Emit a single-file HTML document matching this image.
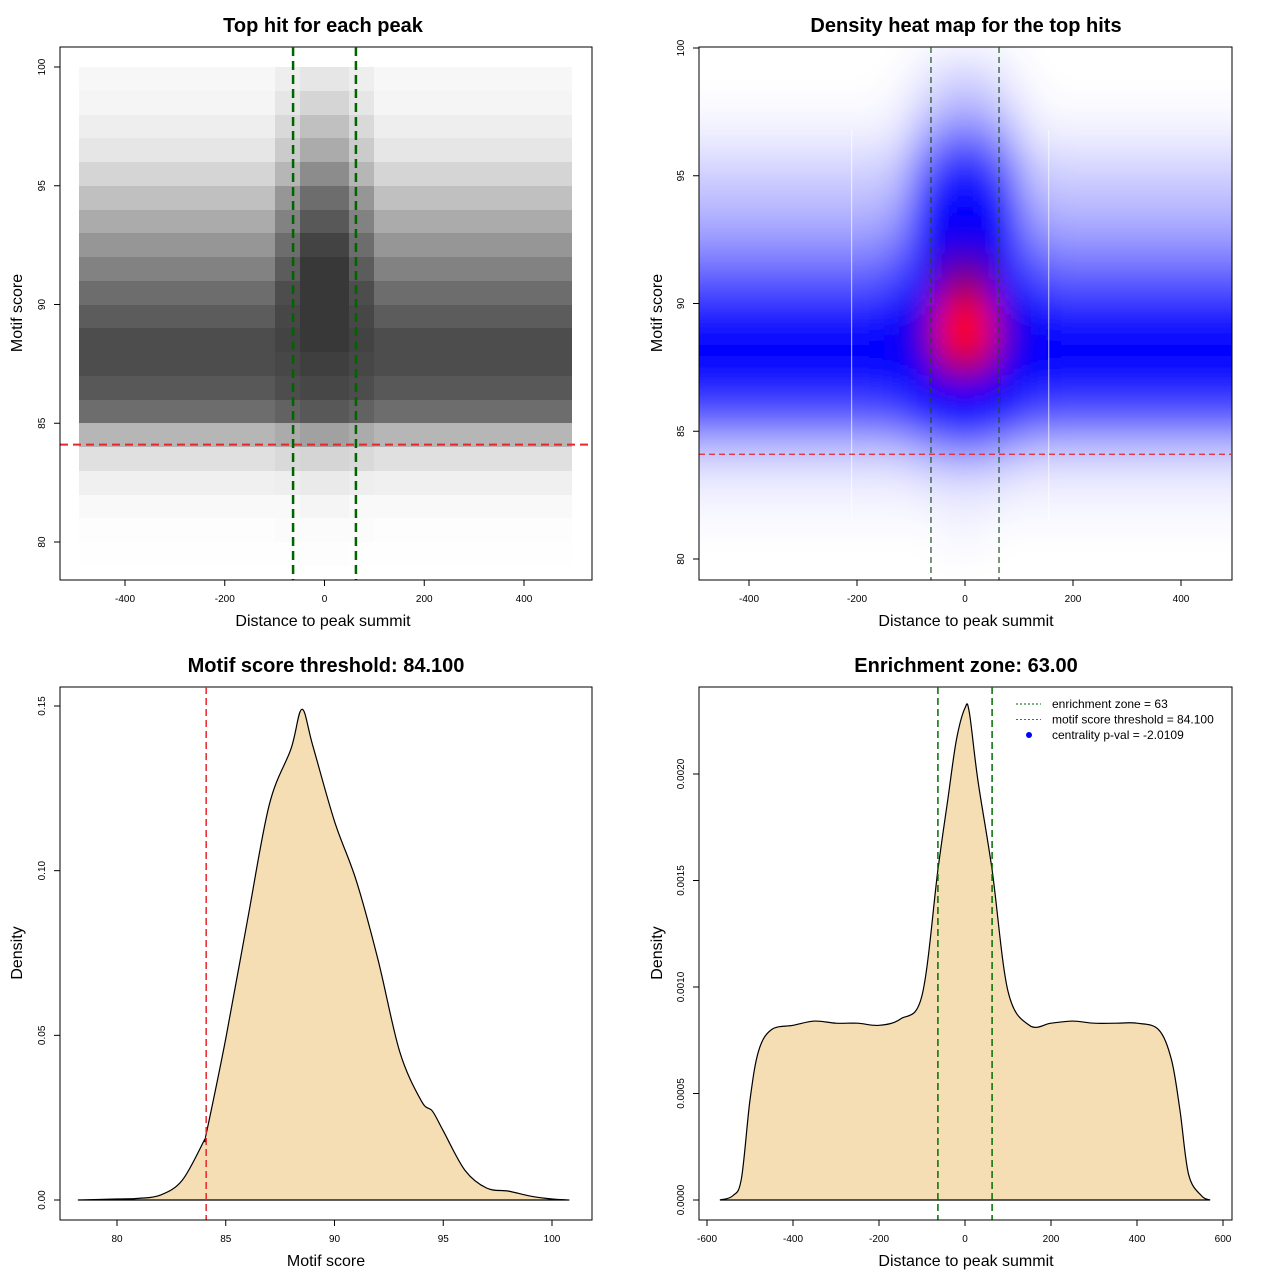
<!DOCTYPE html>
<html><head><meta charset="utf-8"><style>
html,body{margin:0;padding:0;background:#fff}
svg text{font-family:"Liberation Sans",sans-serif}
</style></head><body>
<svg id="s" width="1280" height="1280" xmlns="http://www.w3.org/2000/svg">
<defs>
<filter id="blur" filterUnits="userSpaceOnUse" x="600" y="0" width="700" height="640"><feGaussianBlur stdDeviation="16"/></filter>
<clipPath id="c2"><rect x="699" y="47" width="533" height="533"/></clipPath>
</defs>
</svg>
<script>
// ---------- DATA ----------
const distEdges=[-500,-450,-400,-350,-300,-250,-200,-150,-100,-50,0,50,100,150,200,250,300,350,400,450,500];
const scatterRowsTop=[100,99,98,97,96,95,94,93,92,91,90,89,88,87,86,85,84,83,82,81,80];
const scatterGrid=[
[.04,.04,.04,.04,.04,.04,.04,.04,.08,.12,.12,.08,.04,.04,.04,.04,.04,.04,.04,.04],
[.05,.05,.05,.05,.05,.05,.05,.05,.12,.2,.2,.12,.05,.05,.05,.05,.05,.05,.05,.05],
[.08,.08,.08,.08,.08,.08,.08,.08,.18,.3,.3,.18,.08,.08,.08,.08,.08,.08,.08,.08],
[.12,.12,.12,.12,.12,.12,.12,.12,.25,.4,.4,.25,.12,.12,.12,.12,.12,.12,.12,.12],
[.2,.2,.2,.2,.2,.2,.2,.2,.35,.55,.55,.35,.2,.2,.2,.2,.2,.2,.2,.2],
[.3,.3,.3,.3,.3,.3,.3,.3,.5,.7,.7,.5,.3,.3,.3,.3,.3,.3,.3,.3],
[.4,.4,.4,.4,.4,.4,.4,.4,.6,.8,.8,.6,.4,.4,.4,.4,.4,.4,.4,.4],
[.5,.5,.5,.5,.5,.5,.5,.5,.7,.9,.9,.7,.5,.5,.5,.5,.5,.5,.5,.5],
[.6,.6,.6,.6,.6,.6,.6,.6,.78,.95,.95,.78,.6,.6,.6,.6,.6,.6,.6,.6],
[.7,.7,.7,.7,.7,.7,.7,.7,.85,.95,.95,.85,.7,.7,.7,.7,.7,.7,.7,.7],
[.78,.78,.78,.78,.78,.78,.78,.78,.88,.95,.95,.88,.78,.78,.78,.78,.78,.78,.78,.78],
[.85,.85,.85,.85,.85,.85,.85,.85,.9,.95,.95,.9,.85,.85,.85,.85,.85,.85,.85,.85],
[.85,.85,.85,.85,.85,.85,.85,.85,.88,.92,.92,.88,.85,.85,.85,.85,.85,.85,.85,.85],
[.8,.8,.8,.8,.8,.8,.8,.8,.85,.88,.88,.85,.8,.8,.8,.8,.8,.8,.8,.8],
[.7,.7,.7,.7,.7,.7,.7,.7,.75,.8,.8,.75,.7,.7,.7,.7,.7,.7,.7,.7],
[.35,.35,.35,.35,.35,.35,.35,.35,.4,.45,.45,.4,.35,.35,.35,.35,.35,.35,.35,.35],
[.15,.15,.15,.15,.15,.15,.15,.15,.18,.2,.2,.18,.15,.15,.15,.15,.15,.15,.15,.15],
[.07,.07,.07,.07,.07,.07,.07,.07,.08,.1,.1,.08,.07,.07,.07,.07,.07,.07,.07,.07],
[.03,.03,.03,.03,.03,.03,.03,.03,.03,.05,.05,.03,.03,.03,.03,.03,.03,.03,.03,.03],
[.01,.01,.01,.01,.01,.01,.01,.01,.02,.02,.02,.02,.01,.01,.01,.01,.01,.01,.01,.01],
[.003,.003,.003,.003,.003,.003,.003,.003,.005,.01,.01,.005,.003,.003,.003,.003,.003,.003,.003,.003]];
const heatRowsTop=[100,99,98,97,96,95,94,93,92,91,90,89,88,87,86,85,84,83,82,81];
const heatGrid=[
[0,0,0,0,0,0,0,0,.02,.04,.04,.02,0,0,0,0,0,0,0,0],
[0,0,0,0,0,0,0,.01,.04,.08,.08,.04,.01,0,0,0,0,0,0,0],
[.01,.01,.01,.01,.01,.01,.01,.02,.08,.13,.13,.08,.02,.01,.01,.01,.01,.01,.01,.01],
[.03,.03,.03,.03,.03,.03,.03,.04,.14,.22,.22,.14,.04,.03,.03,.03,.03,.03,.03,.03],
[.06,.06,.06,.06,.06,.06,.06,.08,.22,.33,.33,.22,.08,.06,.06,.06,.06,.06,.06,.06],
[.09,.09,.09,.09,.09,.09,.09,.11,.3,.45,.45,.3,.11,.09,.09,.09,.09,.09,.09,.09],
[.12,.12,.12,.12,.12,.12,.12,.15,.38,.55,.55,.38,.15,.12,.12,.12,.12,.12,.12,.12],
[.16,.16,.16,.16,.16,.16,.16,.2,.45,.62,.62,.45,.2,.16,.16,.16,.16,.16,.16,.16],
[.22,.22,.22,.22,.22,.22,.22,.26,.52,.74,.74,.52,.26,.22,.22,.22,.22,.22,.22,.22],
[.28,.28,.28,.28,.28,.28,.28,.32,.6,.86,.86,.6,.32,.28,.28,.28,.28,.28,.28,.28],
[.36,.36,.36,.36,.36,.36,.36,.4,.66,1,1,.66,.4,.36,.36,.36,.36,.36,.36,.36],
[.47,.52,.47,.45,.45,.45,.45,.47,.7,1,1,.7,.47,.45,.47,.47,.47,.52,.52,.47],
[.4,.4,.4,.4,.4,.4,.4,.42,.62,.85,.85,.62,.42,.4,.4,.4,.4,.4,.4,.4],
[.33,.33,.33,.33,.33,.33,.33,.35,.48,.6,.6,.48,.35,.33,.33,.33,.33,.33,.33,.33],
[.25,.25,.25,.25,.25,.25,.25,.26,.35,.44,.44,.35,.26,.25,.25,.25,.25,.25,.25,.25],
[.12,.12,.12,.12,.12,.12,.12,.13,.17,.22,.22,.17,.13,.12,.12,.12,.12,.12,.12,.12],
[.05,.05,.05,.05,.05,.05,.05,.05,.07,.09,.09,.07,.05,.05,.05,.05,.05,.05,.05,.05],
[.02,.02,.02,.02,.02,.02,.02,.02,.03,.04,.04,.03,.02,.02,.02,.02,.02,.02,.02,.02],
[.01,.01,.01,.01,.01,.01,.01,.01,.01,.02,.02,.01,.01,.01,.01,.01,.01,.01,.01,.01],
[0,0,0,0,0,0,0,0,0,.01,.01,0,0,0,0,0,0,0,0,0]];
const scoreX=[78.2,80,81,82,83,84,84.1,85,86,87,88,88.5,89,90,91,92,93,94,94.5,95,96,97,98,99,100,100.8];
const scoreY=[0,.0003,.0005,.0015,.006,.018,.02,.049,.085,.12,.137,.149,.138,.115,.097,.073,.045,.03,.027,.021,.009,.0036,.0027,.0012,.0003,0];
const distX=[-570,-540,-520,-500,-480,-450,-400,-350,-300,-250,-200,-150,-100,-63,-40,-20,0,10,30,63,100,150,200,250,300,350,400,450,480,500,520,550,570];
const distY=[0,.00002,.0001,.00047,.0007,.0008,.00082,.00084,.00083,.00083,.00082,.00085,.00096,.00155,.00188,.00216,.00231,.00229,.00197,.00155,.00098,.00082,.00083,.00084,.00083,.00083,.00083,.0008,.00066,.00042,.00012,.00002,0];
const p1XTicks=[-400,-200,0,200,400], p1YTicks=[80,85,90,95,100];
const p2XTicks=[-400,-200,0,200,400], p2YTicks=[80,85,90,95,100];
const p3XTicks=[80,85,90,95,100], p3YTicks=[0,0.05,0.10,0.15], p3YLabels=["0.00","0.05","0.10","0.15"];
const p4XTicks=[-600,-400,-200,0,200,400,600], p4YTicks=[0,.0005,.001,.0015,.002], p4YLabels=["0.0000","0.0005","0.0010","0.0015","0.0020"];
const zone=63, threshold=84.1;

// ---------- HELPERS ----------
const S=document.getElementById('s'),NS='http://www.w3.org/2000/svg';
function mk(tag,at,parent){const e=document.createElementNS(NS,tag);for(const k in at)e.setAttribute(k,at[k]);(parent||S).appendChild(e);return e;}
function lin(d0,d1,r0,r1){return v=>r0+(v-d0)*(r1-r0)/(d1-d0);}
function txt(x,y,s,size,opts){const t=mk('text',Object.assign({x:x,y:y,'font-size':size,'text-anchor':'middle',fill:'#000'},opts||{}));t.textContent=s;return t;}
function frame(x0,y0,x1,y1,name){const r=mk('rect',{x:x0,y:y0,width:x1-x0,height:y1-y0,fill:'none',stroke:'#000','stroke-width':1});}
function xAxis(sx,ticks,labels,yb,name){const g=mk('g',{});
 mk('line',{x1:sx(ticks[0]),x2:sx(ticks[ticks.length-1]),y1:yb,y2:yb,stroke:'#000'},g);
 ticks.forEach((t,i)=>{mk('line',{x1:sx(t),x2:sx(t),y1:yb,y2:yb+6,stroke:'#000'},g);const l=txt(sx(t),yb+22,labels[i],10);g.appendChild(l);});}
function yAxis(sy,ticks,labels,xb,name){const g=mk('g',{});
 mk('line',{x1:xb,x2:xb,y1:sy(ticks[0]),y2:sy(ticks[ticks.length-1]),stroke:'#000'},g);
 ticks.forEach((t,i)=>{mk('line',{x1:xb,x2:xb-6,y1:sy(t),y2:sy(t),stroke:'#000'},g);const l=txt(xb-15,sy(t),labels[i],10,{transform:`rotate(-90 ${xb-15} ${sy(t)})`});g.appendChild(l);});}
function titles(cx,title,xlab,ylab,ylx,cy,top){
 const t=txt(cx,top+32,title,20,{'font-weight':'bold'});
 const a=txt(cx,top+626,xlab,16);
 const b=txt(ylx,cy,ylab,16,{transform:`rotate(-90 ${ylx} ${cy})`});}
function smoothPath(pts){let d='M'+pts[0][0]+','+pts[0][1];
 for(let i=0;i<pts.length-1;i++){const p0=pts[Math.max(0,i-1)],p1=pts[i],p2=pts[i+1],p3=pts[Math.min(pts.length-1,i+2)];
  const c1x=p1[0]+(p2[0]-p0[0])/6,c1y=p1[1]+(p2[1]-p0[1])/6,c2x=p2[0]-(p3[0]-p1[0])/6,c2y=p2[1]-(p3[1]-p1[1])/6;
  d+=` C${c1x},${c1y} ${c2x},${c2y} ${p2[0]},${p2[1]}`;}return d;}

// ---------- PANEL 1 ----------
{const sx=lin(-400,400,125,524),sy=lin(80,100,542,67);
 const g=mk('g',{'shape-rendering':'crispEdges'});
 scatterGrid.forEach((row,r)=>row.forEach((v,c)=>{
  const x0=Math.round(Math.max(sx(distEdges[c]),sx(-492))),x1=Math.round(Math.min(sx(distEdges[c+1]),sx(496)));
  const y0=Math.round(sy(scatterRowsTop[r])),y1=Math.round(sy(scatterRowsTop[r]-1));
  const rc=mk('rect',{x:x0,y:y0,width:x1-x0,height:y1-y0,fill:'#000','fill-opacity':v*0.82},g);
  }));
 frame(60,47,592,580,'plot-frame');
 const th=mk('line',{x1:60,x2:592,y1:sy(threshold),y2:sy(threshold),stroke:'#e8262b','stroke-width':2,'stroke-dasharray':'8,5'});
 [-zone,zone].forEach(z=>{const l=mk('line',{x1:sx(z),x2:sx(z),y1:47,y2:580,stroke:'#006400','stroke-width':2.5,'stroke-dasharray':'9,5'});});
 xAxis(sx,p1XTicks,p1XTicks.map(String),580,'x-axis');
 yAxis(sy,p1YTicks,p1YTicks.map(String),60,'y-axis');
 titles(323,'Top hit for each peak','Distance to peak summit','Motif score',22,313,0);}

// ---------- PANEL 2 ----------
function heatColor(v){v=Math.max(0,Math.min(1,v));
 if(v<=.4){const w=Math.round(255*(1-v/.4));return `rgb(${w},${w},255)`;}
 if(v<=.6)return 'rgb(0,0,255)';
 const t=(v-.6)/.4;return `rgb(${Math.round(255*t)},0,${Math.round(255*(1-t))})`;}
{const sx=lin(-400,400,749,1181),sy=lin(80,100,559,48);
 const outer=mk('g',{'clip-path':'url(#c2)'});
 const g=mk('g',{filter:'url(#blur)'},outer);
 mk('rect',{x:600,y:0,width:700,height:640,fill:'#fff'},g);
 heatGrid.forEach((row,r)=>row.forEach((v,c)=>{
  let x0=sx(distEdges[c]),x1=sx(distEdges[c+1]);
  if(c===0)x0=660; if(c===row.length-1)x1=1270;
  const rc=mk('rect',{x:x0,y:sy(heatRowsTop[r]),width:x1-x0+0.5,height:sy(heatRowsTop[r]-1)-sy(heatRowsTop[r])+0.5,fill:heatColor(v)},g);
  }));
 [-210,155].forEach(d=>mk('line',{x1:sx(d),x2:sx(d),y1:130,y2:520,stroke:'#fff','stroke-width':1.2,'stroke-opacity':.6},outer));
 frame(699,47,1232,580,'plot-frame');
 const th=mk('line',{x1:699,x2:1232,y1:sy(threshold),y2:sy(threshold),stroke:'#e8262b','stroke-width':1.2,'stroke-dasharray':'6,4'});
 [-zone,zone].forEach(z=>{const l=mk('line',{x1:sx(z),x2:sx(z),y1:47,y2:580,stroke:'#1f4f1f','stroke-width':1.2,'stroke-dasharray':'6,4'});});
 xAxis(sx,p2XTicks,p2XTicks.map(String),580,'x-axis');
 yAxis(sy,p2YTicks,p2YTicks.map(String),699,'y-axis');
 titles(966,'Density heat map for the top hits','Distance to peak summit','Motif score',662,313,0);}

// ---------- PANEL 3 ----------
{const sx=lin(80,100,117,552),sy=lin(0,0.15,1200,706);
 const pts=scoreX.map((x,i)=>[sx(x),sy(scoreY[i])]);
 const p=mk('path',{d:smoothPath(pts)+' Z',fill:'#f5deb3',stroke:'#000','stroke-width':1.2});
 frame(60,687,592,1220,'plot-frame');
 const th=mk('line',{x1:sx(threshold),x2:sx(threshold),y1:687,y2:1220,stroke:'#e8262b','stroke-width':1.5,'stroke-dasharray':'7,4'});
 xAxis(sx,p3XTicks,p3XTicks.map(String),1220,'x-axis');
 yAxis(sy,p3YTicks,p3YLabels,60,'y-axis');
 titles(326,'Motif score threshold: 84.100','Motif score','Density',22,953,640);}

// ---------- PANEL 4 ----------
{const sx=lin(-600,600,707,1223),sy=lin(0,0.002,1200,774);
 const pts=distX.map((x,i)=>[sx(x),sy(distY[i])]);
 const p=mk('path',{d:smoothPath(pts)+' Z',fill:'#f5deb3',stroke:'#000','stroke-width':1.2});
 frame(699,687,1232,1220,'plot-frame');
 [-zone,zone].forEach(z=>{const l=mk('line',{x1:sx(z),x2:sx(z),y1:687,y2:1220,stroke:'#007000','stroke-width':1.5,'stroke-dasharray':'7,4'});});
 xAxis(sx,p4XTicks,p4XTicks.map(String),1220,'x-axis');
 yAxis(sy,p4YTicks,p4YLabels,699,'y-axis');
 titles(966,'Enrichment zone: 63.00','Distance to peak summit','Density',662,953,640);
 const lg=mk('g',{});
 const items=[['enrichment zone = 63','#006400','line'],['motif score threshold = 84.100','#e8262b','line'],['centrality p-val = -2.0109','#0000ff','dot']];
 items.forEach((it,i)=>{const y=704+i*15.5;
  if(it[2]==='line')mk('line',{x1:1016,x2:1041,y1:y,y2:y,stroke:it[1],'stroke-dasharray':'2,2'},lg);
  else mk('circle',{cx:1029,cy:y,r:3,fill:it[1]},lg);
  const t=txt(1052,y+4,it[0],12,{'text-anchor':'start'});lg.appendChild(t);});}
</script>
</body></html>
